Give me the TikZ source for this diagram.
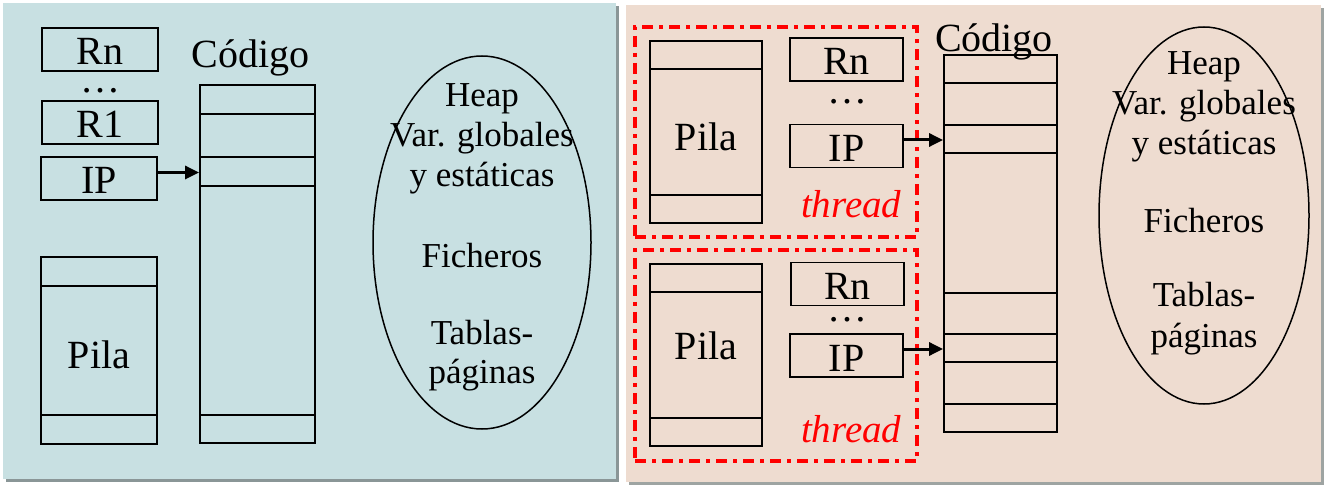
\documentclass[tikz,border=0pt]{standalone}
\usepackage{fontspec}
\setmainfont{Liberation Serif}
\usetikzlibrary{arrows.meta,shapes.geometric}
\definecolor{bluebg}{HTML}{C8E0E2}
\definecolor{rosebg}{HTML}{EEDCD0}
\definecolor{shadowc}{HTML}{8A9697}
\begin{document}
\begin{tikzpicture}[x=1pt,y=-1pt,
  every node/.style={font=\fontsize{40}{46}\selectfont},
  reg/.style={draw, line width=1.8pt, minimum height=43pt, inner sep=0pt, text height=31pt, text depth=0pt},
  colbox/.style={draw, line width=1.8pt, inner sep=0pt},
  divl/.style={line width=1.8pt},
  memell/.style={draw, ellipse, line width=1.5pt, inner sep=0pt},
  arr/.style={line width=3pt, -{Triangle[length=14pt,width=13pt]}},
  threadbox/.style={draw=red, line width=3.2pt, dash pattern=on 11pt off 6pt on 4pt off 6pt, inner sep=0pt},
  thr/.style={anchor=base east, text=red, font=\fontsize{39}{45}\selectfont\itshape},
  lbl/.style={anchor=base},
  dotsl/.style={anchor=base, text height=5pt, text depth=0pt, inner sep=0pt},
  memt/.style={anchor=base, font=\fontsize{35}{40}\selectfont}
]
\useasboundingbox (0,0) rectangle (1325,486);
\fill[white] (0,0) rectangle (1325,486);
% panels
\fill[shadowc] (6,6) rectangle (619,482);
\fill[bluebg] (3,3) rectangle (616,479);
\fill[shadowc!80!rosebg] (629,8) rectangle (1324,485);
\fill[rosebg] (626,5) rectangle (1321,482);

% ---------- left panel ----------
\node[reg, minimum width=116pt] (rnL) at (100,49.5) {Rn};
\node[dotsl] (dotsL) at (100,93) {…};
\node[reg, minimum width=116pt] (r1L) at (100,122.5) {R1};
\node[reg, minimum width=116pt] (ipL) at (99,178.5) {IP};
\node[lbl] (codtL) at (250.5,68) {Código};
\node[colbox, minimum width=115pt, minimum height=358pt] (codeL) at (257.5,264) {};
\foreach \yy in {114,157,186,415}
  \draw[divl] (codeL.west |- 0,\yy) -- (codeL.east |- 0,\yy);
\coordinate (aL) at ([yshift=6pt]ipL.east);
\draw[arr] (aL) -- (codeL.west |- aL);
\node[colbox, minimum width=116pt, minimum height=187pt] (pilaL) at (99,350.5) {};
\foreach \yy in {286,415}
  \draw[divl] (pilaL.west |- 0,\yy) -- (pilaL.east |- 0,\yy);
\node[lbl] (pilatL) at (99,368) {Pila};
\node[memell, minimum width=218pt, minimum height=373pt] (ellL) at (482,242.5) {};
\node[memt] (h1) at (482,107) {Heap};
\node[memt] (v1) at (482,147) {Var. globales};
\node[memt] (y1) at (482,187) {y estáticas};
\node[memt] (f1) at (482,268) {Ficheros};
\node[memt] (t1) at (482,344) {Tablas-};
\node[memt] (p1) at (482,383) {páginas};

% ---------- right panel ----------
\node[threadbox, minimum width=282pt, minimum height=210pt] (thA) at (776,132) {};
\node[threadbox, minimum width=282pt, minimum height=211pt] (thB) at (776,355.5) {};

\node[colbox, minimum width=112pt, minimum height=182pt] (pilaA) at (706,132) {};
\foreach \yy in {69,195}
  \draw[divl] (pilaA.west |- 0,\yy) -- (pilaA.east |- 0,\yy);
\node[lbl] (pilatA) at (706,151) {Pila};
\node[reg, minimum width=113pt] (rnA) at (846.5,59.5) {Rn};
\node[dotsl] (dotsA) at (847,104) {…};
\node[reg, minimum width=113pt] (ipA) at (846.5,146) {IP};
\node[thr] (thrA) at (905,218) {thread};

\node[colbox, minimum width=112pt, minimum height=182pt] (pilaB) at (706,355) {};
\foreach \yy in {292,418}
  \draw[divl] (pilaB.west |- 0,\yy) -- (pilaB.east |- 0,\yy);
\node[lbl] (pilatB) at (706,359) {Pila};
\node[reg, minimum width=113pt] (rnB) at (847.5,284) {Rn};
\node[dotsl] (dotsB) at (847,322) {…};
\node[reg, minimum width=113pt] (ipB) at (846.5,355.5) {IP};
\node[thr] (thrB) at (905,442) {thread};

\node[lbl] (codtR) at (994,52) {Código};
\node[colbox, minimum width=113pt, minimum height=377pt] (codeR) at (1000.5,243.5) {};
\foreach \yy in {83,125,153,293,334,362,404}
  \draw[divl] (codeR.west |- 0,\yy) -- (codeR.east |- 0,\yy);
\coordinate (aA) at ([yshift=6pt]ipA.east);
\coordinate (aB) at ([yshift=6.5pt]ipB.east);
\draw[arr] (aA) -- (codeR.west |- aA);
\draw[arr] (aB) -- (codeR.west |- aB);

\node[memell, minimum width=210pt, minimum height=377pt] (ellR) at (1204,215.5) {};
\node[memt] (h2) at (1204,75) {Heap};
\node[memt] (v2) at (1204,115) {Var. globales};
\node[memt] (y2) at (1204,155) {y estáticas};
\node[memt] (f2) at (1204,233) {Ficheros};
\node[memt] (t2) at (1204,307) {Tablas-};
\node[memt] (p2) at (1204,347) {páginas};
\end{tikzpicture}
\end{document}
